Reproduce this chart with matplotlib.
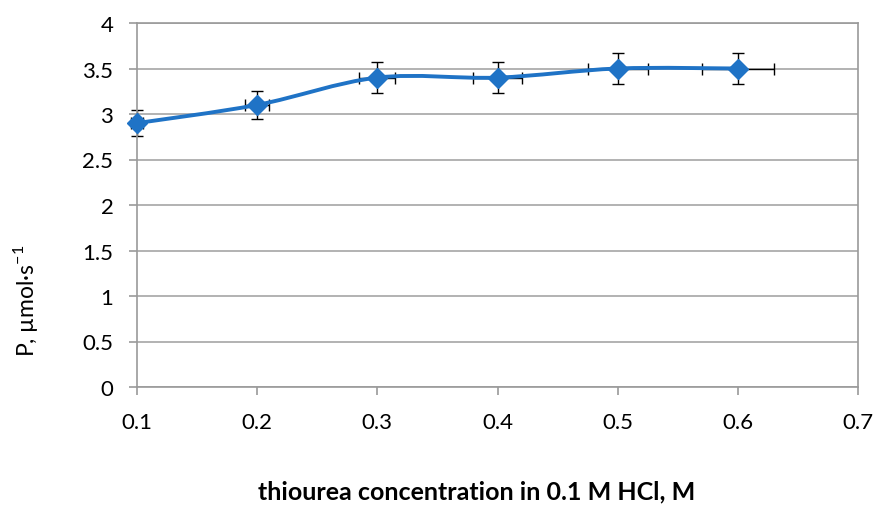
import numpy as np
import matplotlib
matplotlib.use("Agg")
from matplotlib import pyplot as plt
from matplotlib.path import Path
from matplotlib.patches import PathPatch

conc = [0.1, 0.2, 0.3, 0.4, 0.5, 0.6]
power = [2.9, 3.1, 3.4, 3.4, 3.5, 3.5]
rel_err = 0.05  # 5% error bars in both directions

x_ticks = [0.1, 0.2, 0.3, 0.4, 0.5, 0.6, 0.7]
x_ticklabels = ["0.1", "0.2", "0.3", "0.4", "0.5", "0.6", "0.7"]
y_ticks = [0, 0.5, 1, 1.5, 2, 2.5, 3, 3.5, 4]
y_ticklabels = ["0", "0.5", "1", "1.5", "2", "2.5", "3", "3.5", "4"]

blue = "#1f73c6"
plt.rcParams["font.family"] = ["Lato", "DejaVu Sans"]
plt.rcParams["mathtext.fontset"] = "custom"
plt.rcParams["mathtext.rm"] = "Lato"


def smooth_path(x, y):
	# excel-like smoothed line: catmull-rom as cubic bezier segments
	pts = np.column_stack([x, y]).astype(float)
	ext = np.vstack([pts[0], pts, pts[-1]])
	verts = [pts[0]]
	codes = [Path.MOVETO]
	for i in range(len(pts) - 1):
		p0, p1, p2, p3 = ext[i], ext[i + 1], ext[i + 2], ext[i + 3]
		verts += [p1 + (p2 - p0) / 6.0, p2 - (p3 - p1) / 6.0, p2]
		codes += [Path.CURVE4] * 3
	return Path(verts, codes)


fig = plt.figure(figsize=(8.75, 5.06), dpi=100)
ax = fig.add_axes([137 / 875, 1 - 388 / 506, (858 - 137) / 875, (388 - 24) / 506])

ax.add_patch(PathPatch(smooth_path(conc, power), facecolor="none",
	edgecolor=blue, lw=2.8, capstyle="round", zorder=3))
xerr = [c * rel_err for c in conc]
yerr = [p * rel_err for p in power]
ax.errorbar(conc, power, xerr=xerr, yerr=yerr, fmt="none", ecolor="black",
	elinewidth=1.0, capsize=4, capthick=1.0, zorder=2, clip_on=False)
ax.plot(conc, power, linestyle="none", marker="D", markersize=10.5,
	color=blue, zorder=4, clip_on=False)

ax.set_xlim(0.1, 0.7)
ax.set_ylim(0, 4)
ax.set_xticks(x_ticks)
ax.set_xticklabels(x_ticklabels)
ax.set_yticks(y_ticks)
ax.set_yticklabels(y_ticklabels)
ax.yaxis.grid(True, color="#a6a6a6", lw=1.2)
ax.set_axisbelow(True)
for s in ["left", "bottom", "right", "top"]:
	ax.spines[s].set_color("#9a9a9a")
	ax.spines[s].set_linewidth(1.2)
ax.tick_params(axis="both", colors="#9a9a9a", labelcolor="black",
	labelsize=16, length=6, width=1.2)
ax.tick_params(axis="y", pad=11)
ax.tick_params(axis="x", pad=12)
ax.tick_params(axis="y", right=False)

ax.set_ylabel(r"P, µmol·s$^{\mathregular{-1}}$", fontsize=16.5)
ax.yaxis.set_label_coords(-0.1346, 0.239)
ax.set_xlabel("thiourea concentration in 0.1 M HCl, M", fontsize=18,
	fontweight="bold")
ax.xaxis.set_label_coords(0.471, -0.255)

fig.savefig("out.png", dpi=100)
